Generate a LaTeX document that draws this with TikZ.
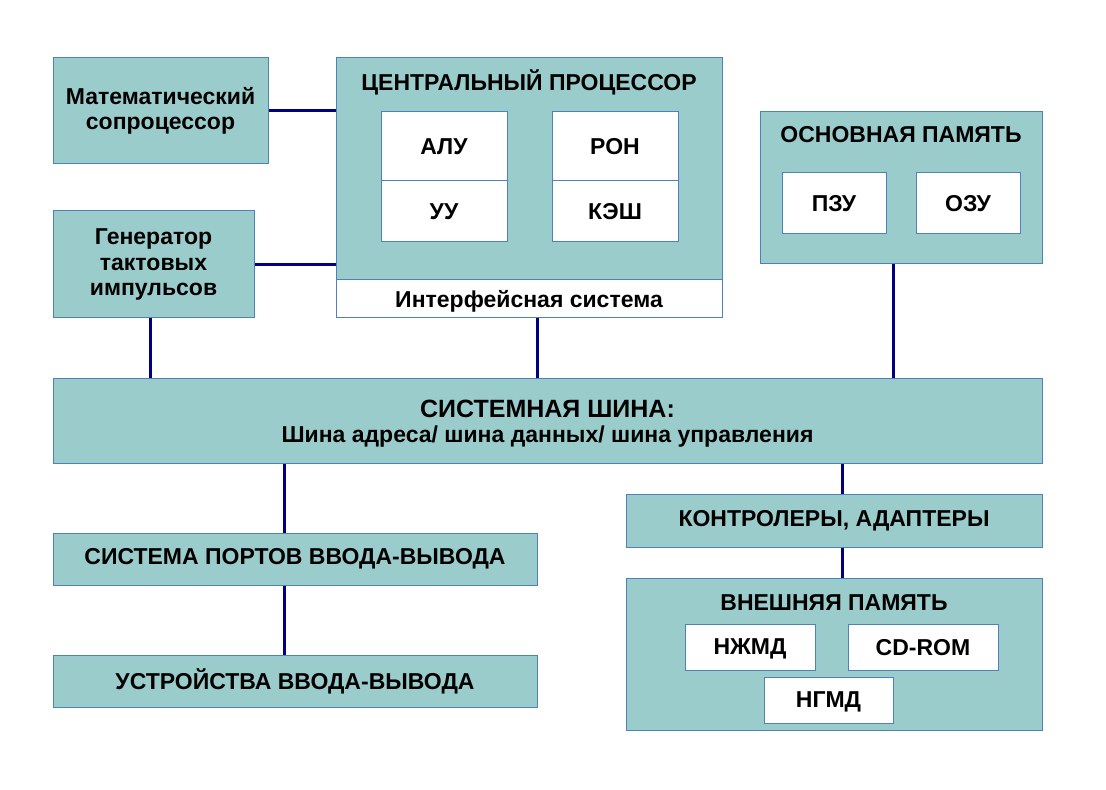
\documentclass[tikz,border=0pt]{standalone}
\usepackage{fontspec}
\setmainfont{Liberation Sans}
\usepackage{tikz}
\usepackage{xcolor}
\definecolor{boxteal}{RGB}{155,204,204}
\definecolor{boxedge}{RGB}{79,129,189}
\definecolor{busnavy}{RGB}{0,0,128}

\begin{document}
\begin{tikzpicture}[x=0.5pt,y=-0.5pt,
    blk/.style={draw=boxedge,line width=0.5pt,fill=boxteal,inner sep=0pt,align=center,
      font=\fontsize{11.5}{12.7}\selectfont\bfseries},
    cell/.style={blk,fill=white,text depth=0pt},
    ttl/.style={inner sep=0pt,align=center,font=\fontsize{11.5}{12.7}\selectfont\bfseries},
    wire/.style={draw=busnavy,line width=1.5pt}]
        \useasboundingbox (0,0) rectangle (1106,790);
        \node[blk,minimum width=107.5pt,minimum height=53pt] (copro) at (160.5,111) {Математический\\сопроцессор};
        \node[blk,minimum width=100.5pt,minimum height=53.5pt] (gen) at (153.5,264.5) {Генератор\\тактовых\\импульсов};
        \node[blk,minimum width=193pt,minimum height=111pt] (cpu) at (529,169) {};
        \node[ttl] (cputitle) at (529,82) {ЦЕНТРАЛЬНЫЙ ПРОЦЕССОР};
        \node[cell,minimum width=63pt,minimum height=34.5pt] (alu) at (444,146.5) {АЛУ};
        \node[cell,minimum width=63pt,minimum height=30.5pt] (uu) at (444,211.5) {УУ};
        \node[cell,minimum width=63pt,minimum height=34.5pt] (ron) at (615,146.5) {РОН};
        \node[cell,minimum width=63pt,minimum height=30.5pt] (kesh) at (615,211.5) {КЭШ};
        \node[cell,minimum width=193pt,minimum height=19pt] (iface) at (529,299) {Интерфейсная система};
        \node[blk,minimum width=141pt,minimum height=76pt] (mem) at (901,188) {};
        \node[ttl] (memtitle) at (901,135) {ОСНОВНАЯ ПАМЯТЬ};
        \node[cell,minimum width=52pt,minimum height=30.5pt] (pzu) at (834,203.5) {ПЗУ};
        \node[cell,minimum width=52pt,minimum height=30.5pt] (ozu) at (968,203.5) {ОЗУ};
        \node[blk,text depth=0pt,minimum width=494.5pt,minimum height=42pt] (bus) at (547.5,421)
          {{\fontsize{12.5}{14}\selectfont СИСТЕМНАЯ ШИНА:}\\Шина адреса/ шина данных/ шина управления};
        \node[blk,minimum width=242pt,minimum height=26pt] (ports) at (295,559) {СИСТЕМА ПОРТОВ ВВОДА-ВЫВОДА};
        \node[blk,minimum width=242pt,minimum height=26pt] (dev) at (295,681) {УСТРОЙСТВА ВВОДА-ВЫВОДА};
        \node[blk,minimum width=208pt,minimum height=26.5pt] (ctrl) at (834,520.5) {КОНТРОЛЕРЫ, АДАПТЕРЫ};
        \node[blk,minimum width=208pt,minimum height=76pt] (ext) at (834,654) {};
        \node[ttl] (exttitle) at (834,603) {ВНЕШНЯЯ ПАМЯТЬ};
        \node[cell,minimum width=65pt,minimum height=23pt] (hdd) at (750,647) {НЖМД};
        \node[cell,minimum width=75pt,minimum height=23pt] (cdrom) at (923,647) {CD-ROM};
        \node[cell,minimum width=64.5pt,minimum height=23pt] (fdd) at (828.5,700) {НГМД};
        \draw[wire] (copro.east) -- (copro.east -| cpu.west);
        \draw[wire] (gen.east) -- (gen.east -| cpu.west);
        \draw[wire] ([xshift=-1.75pt]gen.south) -- ([xshift=-1.75pt]gen.south |- bus.north);
        \draw[wire] ([xshift=4pt]iface.south) -- ([xshift=4pt]iface.south |- bus.north);
        \draw[wire] ([xshift=-4pt]mem.south) -- ([xshift=-4pt]mem.south |- bus.north);
        \draw[wire] ([xshift=-5.5pt]ports.north) -- ([xshift=-5.5pt]ports.north |- bus.south);
        \draw[wire] ([xshift=-5.5pt]ports.south) -- ([xshift=-5.5pt]dev.north);
        \draw[wire] ([xshift=4pt]ctrl.north) -- ([xshift=4pt]ctrl.north |- bus.south);
        \draw[wire] ([xshift=4pt]ctrl.south) -- ([xshift=4pt]ext.north);
      \end{tikzpicture}
\end{document}
